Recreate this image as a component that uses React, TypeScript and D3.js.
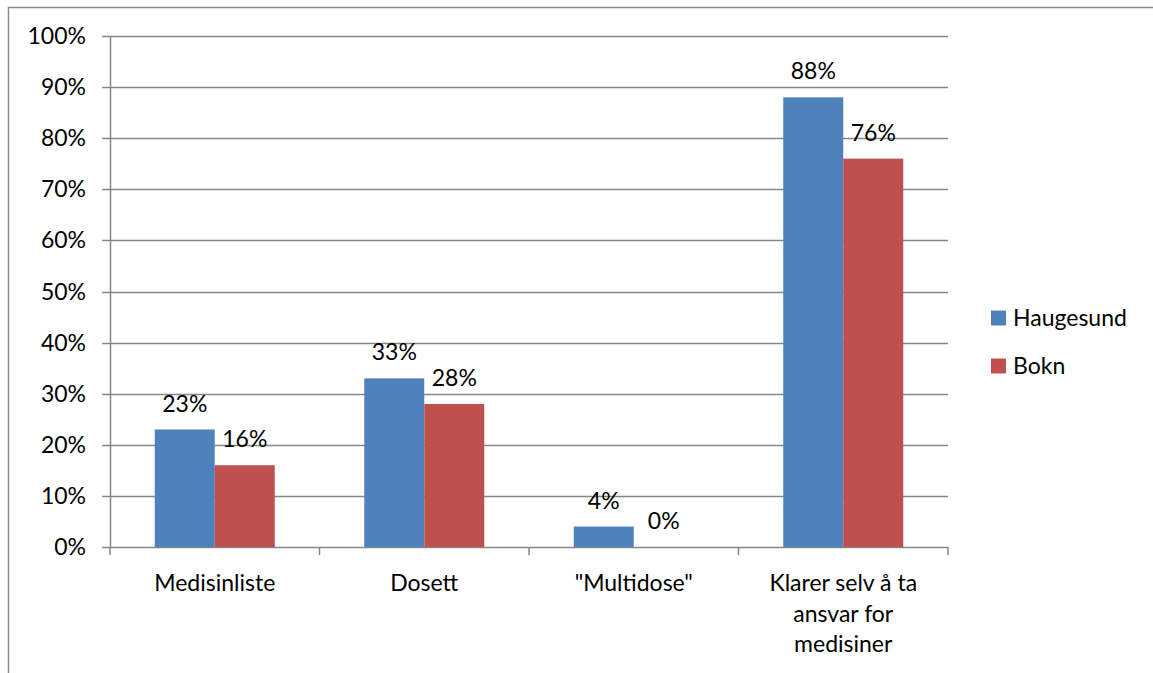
import React from "react";
import * as d3 from "d3";

const categories: string[][] = [
  ["Medisinliste"],
  ["Dosett"],
  ['"Multidose"'],
  ["Klarer selv å ta", "ansvar for", "medisiner"],
];
const seriesNames = ["Haugesund", "Bokn"];
const haugesund = [23, 33, 4, 88];
const bokn = [16, 28, 0, 76];
const yTicks = [0, 10, 20, 30, 40, 50, 60, 70, 80, 90, 100];

const colors = ["#4F81BD", "#C0504D"];
const gridColor = "#868686";
const font = "Lato, 'Open Sans', sans-serif";
const fs = 23;

export default function App() {
  const W = 1153;
  const H = 673;
  const left = 110;
  const right = 948;
  const top = 36;
  const bottom = 547;

  const x = d3
    .scaleBand<number>()
    .domain(d3.range(categories.length))
    .range([left, right]);
  const y = d3.scaleLinear().domain([0, 100]).range([bottom, top]);
  const groupW = 120;
  const inner = d3
    .scaleBand<number>()
    .domain([0, 1])
    .range([0, groupW]);
  const series = [haugesund, bokn];

  return (
    <svg
      width={W}
      height={H}
      style={{ position: "absolute", left: 0, top: 0, background: "#fff" }}
      fontFamily={font}
    >
      <rect x={8.5} y={7.5} width={1160} height={700} fill="#fff" stroke="#8c8c8c" strokeWidth={1.5} />
      {/* gridlines and y ticks */}
      {yTicks.map((t) => (
        <g key={t}>
          <line x1={102} x2={right} y1={Math.round(y(t)) + 0.5} y2={Math.round(y(t)) + 0.5} stroke={gridColor} strokeWidth={1.5} />
          <text x={86} y={y(t)} dy="0.35em" textAnchor="end" fontSize={fs} fill="#000">
            {t}%
          </text>
        </g>
      ))}
      {/* y axis */}
      <line x1={left + 0.5} x2={left + 0.5} y1={top} y2={bottom} stroke={gridColor} strokeWidth={1.5} />
      {/* category ticks */}
      {d3.range(categories.length + 1).map((i) => {
        const xx = i < categories.length ? x(i)! : right;
        return <line key={i} x1={xx} x2={xx} y1={bottom} y2={bottom + 8} stroke={gridColor} strokeWidth={1.5} />;
      })}
      {/* bars */}
      {series.map((vals, s) =>
        vals.map((v, i) => {
          const cx = x(i)! + x.bandwidth() / 2;
          const bx = cx - groupW / 2 + inner(s)!;
          return (
            <g key={`${s}-${i}`}>
              <rect x={bx} y={y(v)} width={inner.bandwidth()} height={bottom - y(v)} fill={colors[s]} />
              <text x={bx + inner.bandwidth() / 2} y={y(v) - 26} dy="0.35em" textAnchor="middle" fontSize={fs} fill="#000">
                {v}%
              </text>
            </g>
          );
        })
      )}
      {/* category labels */}
      {categories.map((lines, i) => (
        <text key={i} textAnchor="middle" fontSize={fs} fill="#000">
          {lines.map((ln, j) => (
            <tspan key={j} x={x(i)! + x.bandwidth() / 2} y={583 + j * 30.5} dy="0.35em">
              {ln}
            </tspan>
          ))}
        </text>
      ))}
      {/* legend */}
      {seriesNames.map((n, s) => (
        <g key={n} transform={`translate(991, ${318 + s * 48})`}>
          <rect x={0} y={-7.5} width={15} height={15} fill={colors[s]} />
          <text x={22} y={0} dy="0.35em" fontSize={fs} fill="#000">
            {n}
          </text>
        </g>
      ))}
    </svg>
  );
}
